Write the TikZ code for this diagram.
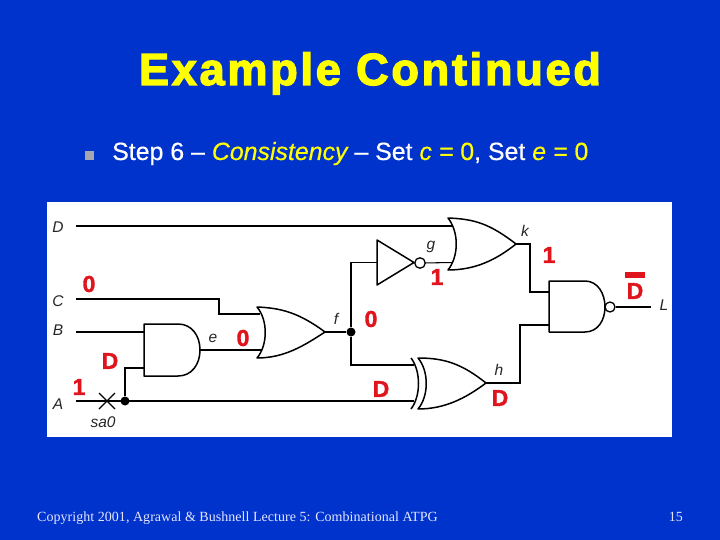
\documentclass[tikz,border=0pt]{standalone}
\usepackage{fontspec}
\setmainfont{Liberation Sans}
\newfontfamily\titlef[FakeBold=3,LetterSpace=6.2]{Liberation Sans Bold}
\newfontfamily\bodyf[FakeBold=0.4]{Liberation Sans}
\newfontfamily\redf[FakeBold=1.5]{Liberation Sans Bold}
\newfontfamily\footf[LetterSpace=0.3]{Liberation Serif}
\definecolor{slide}{HTML}{0033CC}
\definecolor{ttl}{HTML}{FFFF00}
\definecolor{valred}{HTML}{E0141C}
\definecolor{bul}{HTML}{A6A6B0}
\tikzset{
  gate/.style={draw=black,fill=white,line width=1.5pt,line join=round},
  wire/.style={draw=black,line width=1.05pt},
  thick wire/.style={draw=black,line width=1.9pt},
  joint/.style={circle,fill=black,inner sep=0pt,minimum size=9pt},
  bubble/.style={circle,draw=black,fill=white,line width=1.3pt,inner sep=0pt,minimum size=10.5pt},
  sig/.style={font=\fontsize{15.5}{15.5}\selectfont\itshape,inner sep=0pt,text=black!85},
  val/.style={font=\fontsize{23}{23}\redf,inner sep=0pt,text=valred},
}
\begin{document}
\begin{tikzpicture}[x=1pt,y=-1pt]
\useasboundingbox (0,0) rectangle (720,540);
\fill[slide] (0,0) rectangle (720,540);
\fill[white] (47,202) rectangle (672,437);

\node[anchor=base,inner sep=0pt,text=ttl,font=\fontsize{45}{45}\titlef] (title) at (370,85) {Example Continued};
\fill[bul] (85,151) rectangle (94,160);
\node[anchor=base west,inner sep=0pt,text=white,font=\fontsize{24.9}{24.9}\bodyf] (step) at (112,160)
  {Step 6 – {\color{ttl}\itshape Consistency} – Set {\color{ttl}\itshape c = }{\color{ttl}0}, Set {\color{ttl}\itshape e = }{\color{ttl}0}};
\node[anchor=base west,inner sep=0pt,text=white!90!blue,font=\fontsize{14}{14}\footf] (foot) at (37,521) {Copyright 2001, Agrawal \& Bushnell Lecture 5: Combinational ATPG};
\node[anchor=base east,inner sep=0pt,text=white!90!blue,font=\fontsize{14}{14}\footf] (page) at (683,521) {15};

% free wire ends and gate pins
\coordinate (inD) at (76,226);
\coordinate (inC) at (76,299);
\coordinate (inB) at (76,332);
\coordinate (inA) at (76,401);
\coordinate (endL) at (651,307);
\coordinate (andB) at (144,332);
\coordinate (andA) at (144,368);
\coordinate (andO) at (200,350);
\coordinate (orC) at (260,314);
\coordinate (orE) at (263,350);
\coordinate (orO) at (325,332);
\coordinate (invI) at (377,262.5);
\coordinate (invO) at (414,262.5);
\coordinate (kD) at (452,226);
\coordinate (kG) at (455,262.5);
\coordinate (kO) at (516,244);
\coordinate (xF) at (414,365);
\coordinate (xA) at (414,401);
\coordinate (xO) at (486,383);
\coordinate (nK) at (549,292);
\coordinate (nH) at (549,325);

% wires
\draw[thick wire] (inD) -- (kD);
\draw[wire] (inC) -| (219,314) -- (orC);
\draw[thick wire] (inB) -- (andB);
\draw[wire] (inA) -- (xA);
\node[joint] (ja) at (125,401) {};
\draw[wire,line width=1.6pt] (ja) |- (andA);
\draw[wire] (andO) -- (orE);
\node[joint] (jf) at (351,332) {};
\draw[thick wire] (orO) -- (jf);
\draw[wire] (jf) |- (invI);
\draw[thick wire,line width=1.6pt] (jf) |- (xF);
\draw[wire] (kO) -| (530,292) -- (nK);
\draw[wire] (xO) -| (520,325) -- (nH);

% gates
\draw[gate] (144,324) -- (178,324) .. controls (192,324) and (200,336) .. (andO)
  .. controls (200,364) and (192,376) .. (178,376) -- (144,376) -- cycle;
\draw[gate] (257,307) .. controls (280,308) and (298,312) .. (orO)
  .. controls (305,345) and (285,358) .. (257,358)
  .. controls (268,345) and (268,320) .. cycle;
\draw[gate] (invI |- 0,240) -- (invO) -- (invI |- 0,285) -- cycle;
\node[bubble] (bg) at (420,263) {};
\draw[wire] (bg) -- (kG);
\draw[gate] (448,218) .. controls (475,219) and (490,224) .. (kO)
  .. controls (496,260) and (475,270) .. (448,270)
  .. controls (459,256) and (459,232) .. cycle;
\draw[gate] (418,358) .. controls (445,358) and (462,364) .. (xO)
  .. controls (466,398) and (445,409) .. (418,409)
  .. controls (429,396) and (429,371) .. cycle;
\draw[draw=black,line width=1.5pt] (411,358) .. controls (421,371) and (421,396) .. (411,409);
\draw[gate] (549,281) -- (585,281) .. controls (598,281) and (605,294) .. (605,307)
  .. controls (605,320) and (598,332) .. (585,332) -- (549,332) -- cycle;
\node[bubble,minimum size=10pt] (bn) at (610,307) {};
\draw[wire] (bn) -- (endL);

% stuck-at cross
\draw[black,line width=1.3pt] (99,393) -- (115,409) (115,393) -- (99,409);

% signal names
\node[sig] (lD) at (58,227) {D};
\node[sig] (lC) at (58,301) {C};
\node[sig] (lB) at (58,330) {B};
\node[sig] (lA) at (58,404) {A};
\node[sig] (lsa) at (103,422) {sa0};
\node[sig] (le) at (213,338) {e};
\node[sig] (lf) at (336,319) {f};
\node[sig] (lg) at (431,247) {g};
\node[sig] (lk) at (525,231) {k};
\node[sig] (lh) at (499,370) {h};
\node[sig] (lL) at (664,305) {L};

% logic values
\node[val] (v1) at (89,284) {0};
\node[val] (v2) at (437,277) {1};
\node[val] (v3) at (549,255) {1};
\node[val] (v4) at (371,319) {0};
\node[val] (v5) at (243,338) {0};
\node[val] (v6) at (110,361) {D};
\node[val] (v7) at (79,387) {1};
\node[val] (v8) at (381,389) {D};
\node[val] (v9) at (500,398) {D};
\node[val] (v10) at (635,291) {D};
\fill[valred] (625,272) rectangle (645,278);
\end{tikzpicture}
\end{document}
